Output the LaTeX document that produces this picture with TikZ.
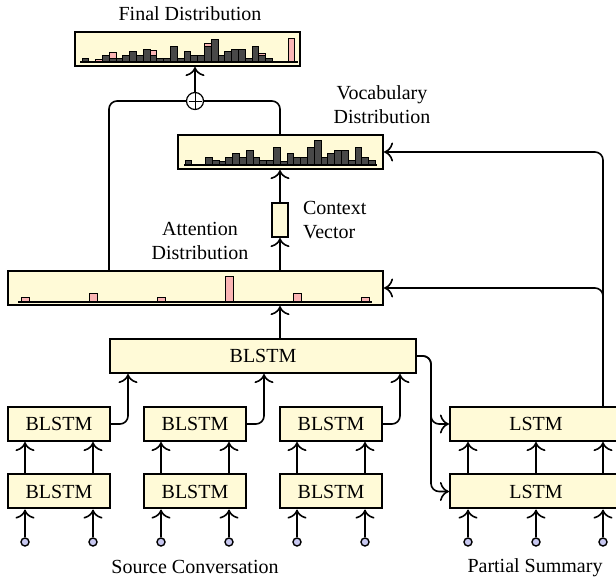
\documentclass[tikz,border=0pt]{standalone}
\usepackage{fontspec}
\setmainfont{Liberation Serif}
\usetikzlibrary{arrows.meta}
\definecolor{cream}{RGB}{255,250,215}
\definecolor{barpink}{RGB}{250,180,180}
\definecolor{bardark}{RGB}{72,72,72}
\definecolor{inpblue}{RGB}{200,200,240}

\begin{document}
\begin{tikzpicture}[
        x=0.5pt, y=-0.5pt,
        box/.style={draw, line width=1pt, fill=cream, inner sep=0pt, minimum height=17pt},
        conn/.style={line width=0.8pt, rounded corners=4pt},
        arr/.style={conn, -{To[scale=1.35]}},
        darkbar/.style={draw, line width=0.5pt, fill=bardark},
        pinkbar/.style={draw, line width=0.5pt, fill=barpink},
        inp/.style={circle, draw, line width=0.7pt, fill=inpblue, inner sep=0pt, minimum size=4pt}
      ]
      \useasboundingbox (0,0) rectangle (616,582);

      \node[box, minimum width=112.5pt] (fin) at (187.5,49) {};
      \node[box, minimum width=102.5pt] (voc) at (280.5,152) {};
      \node[box, minimum width=187.5pt] (att) at (195.5,288) {};
      \node[box, minimum width=8pt] (ctx) at (280,220) {};
      \node[box, minimum width=153pt] (enc) at (263,356) {BLSTM};
      \node[circle, draw, line width=0.6pt, fill=white, minimum size=8.5pt, inner sep=0pt] (plus) at (195,101) {};
      \draw[line width=0.4pt, shorten >=1.3pt, shorten <=1.3pt] (plus.north) -- (plus.south) (plus.west) -- (plus.east);

      \foreach \i/\x in {1/59,2/195,3/331} {
        \node[box, minimum width=51pt] (up\i) at (\x,424) {BLSTM};
        \node[box, minimum width=51pt] (low\i) at (\x,491.5) {BLSTM};
        \node[inp] (src\i-a) at (\x-34,542) {};
        \node[inp] (src\i-b) at (\x+34,542) {};
      }
      \node[box, minimum width=86pt] (dec1) at (536,424) {LSTM};
      \node[box, minimum width=86pt] (dec2) at (536,491.5) {LSTM};
      \foreach \x [count=\j] in {468,536,603}
        \node[inp] (tgt\j) at (\x,542) {};

      % labels
      \node (finlabel) at (190,14) {Final Distribution};
      \node[align=center] (voclabel) at (382,105) {Vocabulary\\Distribution};
      \node[align=left, anchor=west] (ctxlabel) at (296,220) {Context\\Vector};
      \node[align=center] (attlabel) at (200,241) {Attention\\Distribution};
      \node (srclabel) at (195,567) {Source Conversation};
      \node (tgtlabel) at (535,568) {Partial Summary};

      % bars
      \foreach \h [count=\i] in {4,0,0,7,4,3,7,11,7,14,7,4,4,17,3,11,7,7,17,24,7,11,14,14,4,17,7,4}
        \draw[darkbar] ({185+6.8*(\i-1)},165) rectangle ++(6.8,-\h);
      \draw[line width=0.8pt] (184,165) -- (377,165);

      \foreach \h [count=\i] in {3.5,0,0,6,3,3,6,10,6,12.5,6,3.5,3.5,15,3,10,6,6,15,22,6,10,12.5,12.5,3.5,15,6,3.5}
        \draw[darkbar] ({82+6.8*(\i-1)},62) rectangle ++(6.8,-\h);
      \foreach \s/\d/\h in {3/0/2,5/3/6,11/6/5,19/15/3,27/6/2}
        \draw[pinkbar] ({82+6.8*(\s-1)},{62-\d}) rectangle ++(6.8,-\h);
      \draw[pinkbar] (288,62) rectangle (294,39);
      \draw[line width=0.8pt] (80,62) -- (298,62);

      \foreach \h [count=\i] in {4,8,4,25,8,4}
        \draw[pinkbar] ({21.5+68*(\i-1)},302) rectangle ++(7.5,-\h);
      \draw[line width=0.8pt] (18,302) -- (372,302);

      % connectors
      \draw[arr] (plus) -- (plus |- fin.south);
      \draw[conn] (att.north -| enc.west) |- (plus);
      \draw[conn] (voc.north -| ctx) |- (plus);
      \draw[arr] (ctx) -- (ctx |- voc.south);
      \draw[arr] (att.north -| ctx) -- (ctx);
      \draw[arr] (enc.north -| ctx) -- (att.south -| ctx);

      \foreach \i in {1,2,3} {
        \coordinate (j\i) at ([xshift=8.5pt]up\i.east);
        \draw[arr] (up\i) -| (j\i |- enc.south);
        \foreach \s in {a,b} {
          \draw[arr] (src\i-\s) -- (low\i.south -| src\i-\s);
          \draw[arr] (low\i.north -| src\i-\s) -- (up\i.south -| src\i-\s);
        }
      }

      \coordinate (split) at ([xshift=7pt]enc.east);
      \draw[arr] (enc) -| (split |- dec1) -- (dec1);
      \draw[arr] (enc) -| (split |- dec2) -- (dec2);
      \foreach \j in {1,2,3} {
        \draw[arr] (tgt\j) -- (dec2.south -| tgt\j);
        \draw[arr] (dec2.north -| tgt\j) -- (dec1.south -| tgt\j);
      }
      \draw[arr] (dec1.north -| tgt3) |- (voc);
      \draw[arr] (dec1.north -| tgt3) |- (att);

    \end{tikzpicture}
\end{document}
